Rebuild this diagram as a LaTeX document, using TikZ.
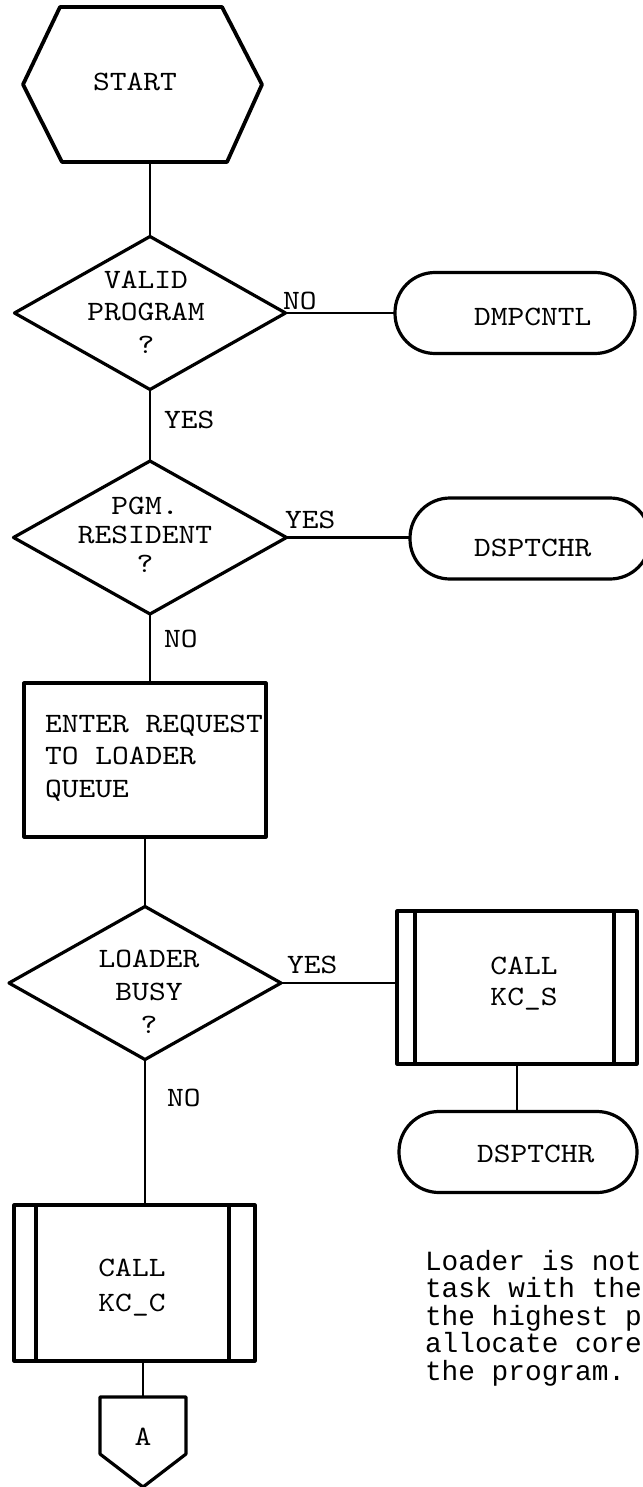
\documentclass[tikz,border=0pt]{standalone}
\usepackage{fontspec}
\usetikzlibrary{shapes.geometric}
\newfontfamily\tw{lmmono10-regular.otf}[FakeStretch=1.14]
\newfontfamily\nf{Liberation Mono}
\begin{document}
\begin{tikzpicture}[x=1pt,y=-1pt,
  every node/.style={inner sep=0pt,outer sep=0pt},
  shp/.style={draw,line width=3.2pt,line join=round},
  con/.style={line width=2.8pt},
  txt/.style={font={\tw\fontsize{28}{#1}\selectfont},align=center,anchor=north},
  txt/.default=32,
  lbl/.style={font={\tw\fontsize{28}{32}\selectfont},anchor=base west},
  note/.style={font={\nf\fontsize{27.8}{27.5}\selectfont},align=left,anchor=north west},
  diam/.style={shp,diamond,minimum width=#1,minimum height=153pt},
  term/.style={shp,rounded corners=40pt,minimum width=240pt,minimum height=81pt},
  pbox/.style={shp,minimum width=240pt,minimum height=153pt}
]
\fill[white] (0,0) rectangle (642,1487);
\useasboundingbox (0,0) rectangle (642,1487);

% START hexagon
\node[minimum width=239pt,minimum height=155pt] (start) at (142.5,84.5) {};
\draw[shp,line width=3.8pt] ([xshift=37pt]start.north west) -- ([xshift=-40pt]start.north east)
  -- (start.east) -- ([xshift=-35pt]start.south east) -- ([xshift=39pt]start.south west)
  -- (start.west) -- cycle;
\node[txt] (startt) at (135,73) {START};

% decision 1
\node[diam=271pt] (d1) at (150,313) {};
\node[txt=32.5] (d1t) at (146,271) {VALID\\PROGRAM\\?};
\node[term] (t1) at (515,313) {};
\node[lbl] (t1t) at (474,326) {DMPCNTL};
\node[lbl] (no1) at (283,309) {NO};
\draw[con] (d1.north |- start.south) -- (d1.north);
\draw[con] (d1.east) -- (t1.west);

% decision 2
\node[diam=273pt] (d2) at (150,537.5) {};
\node[txt=29] (d2t) at (145,497) {PGM.\\RESIDENT\\?};
\node[term] (t2) at (530,538.5) {};
\node[lbl] (t2t) at (474,556) {DSPTCHR};
\node[lbl] (yes1) at (164,428) {YES};
\node[lbl] (yes2) at (285,528) {YES};
\draw[con] (d1.south) -- (d2.north);
\draw[con] (d2.east) -- (d2.east -| t2.west);

% process box
\node[shp,minimum width=242pt,minimum height=154pt] (r) at (145,760) {};
\node[anchor=north west,align=left,font={\tw\fontsize{28}{32.5}\selectfont}] (rt) at (45,715) {ENTER REQUEST\\TO LOADER\\QUEUE};
\node[lbl] (no2) at (164,647) {NO};
\draw[con] (d2.south) -- (d2.south |- r.north);

% decision 3
\node[diam=272pt] (d3) at (145,983) {};
\node[txt=33] (d3t) at (149,950) {LOADER\\BUSY\\?};
\draw[con] (d3.north |- r.south) -- (d3.north);
\node[lbl] (yes3) at (287,973) {YES};
\node[lbl] (no3) at (167,1106) {NO};

% CALL KC_S
\node[pbox] (s) at (517,987.5) {};
\draw[shp] ([xshift=18pt]s.north west) -- ([xshift=18pt]s.south west);
\draw[shp] ([xshift=-23pt]s.north east) -- ([xshift=-23pt]s.south east);
\node[txt=31] (st) at (524,957) {CALL\\KC\_S};
\draw[con] (d3.east) -- (d3.east -| s.west);

% DSPTCHR lower
\node[term,minimum width=238pt] (t3) at (518,1152) {};
\node[lbl] (t3t) at (477,1162) {DSPTCHR};
\draw[con] (s.south) -- (s.south |- t3.north);

% CALL KC_C
\node[pbox,minimum width=241pt,minimum height=156pt] (c) at (134.5,1283) {};
\draw[shp] ([xshift=22pt]c.north west) -- ([xshift=22pt]c.south west);
\draw[shp] ([xshift=-26pt]c.north east) -- ([xshift=-26pt]c.south east);
\node[txt=35] (ct) at (132,1259) {CALL\\KC\_C};
\draw[con] (d3.south) -- (d3.south |- c.north);

% off-page connector
\node[minimum width=86pt,minimum height=90pt] (op) at (143,1442) {};
\draw[shp] (op.north west) -- (op.north east) -- ([yshift=33pt]op.south east)
  -- (op.south) -- ([yshift=33pt]op.south west) -- cycle;
\node[lbl,anchor=base] (opt) at (143,1445) {A};
\draw[con] (op.north |- c.south) -- (op.north);

% note
\node[note] (nt) at (425,1250) {Loader is not\\task with the\\the highest p\\allocate core\\the program.};
\end{tikzpicture}
\end{document}
